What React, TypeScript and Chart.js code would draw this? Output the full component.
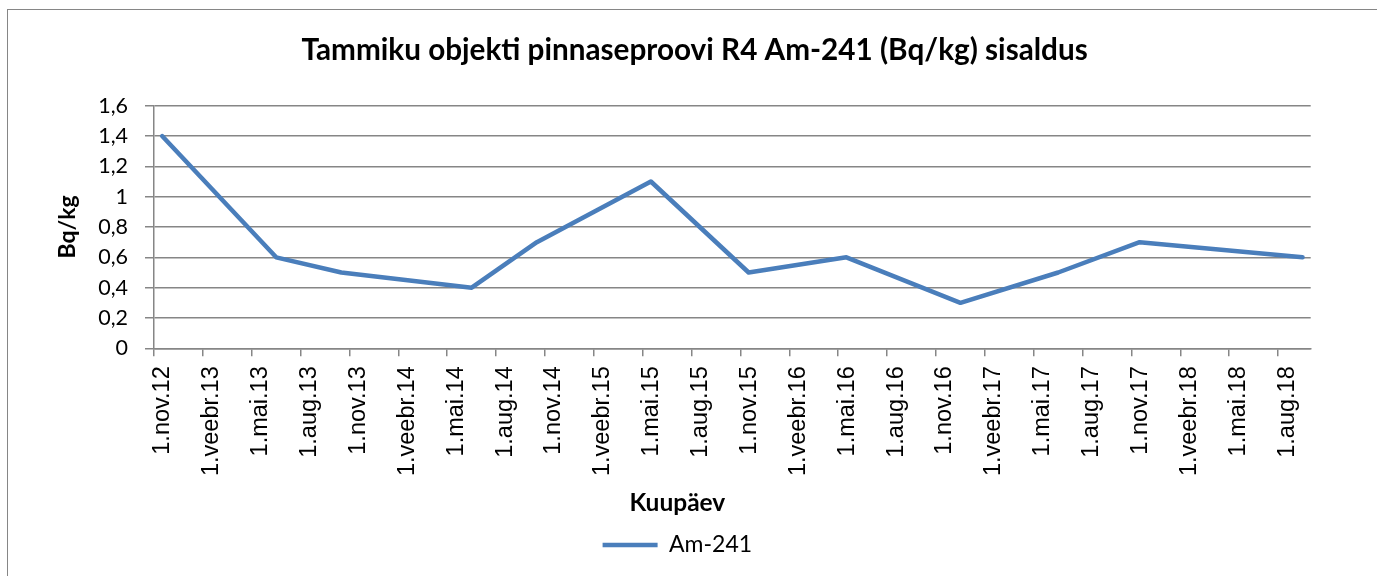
import React, { useEffect, useRef } from 'react';
import { Chart, registerables } from 'chart.js';

Chart.register(...registerables);

// ---- data ----
const chartTitle = 'Tammiku objekti pinnaseproovi R4 Am-241 (Bq/kg) sisaldus';
const seriesName = 'Am-241';
const xAxisTitle = 'Kuupäev';
const yAxisTitle = 'Bq/kg';

const sampleMonths = [
  '2012-11', '2013-06', '2013-10', '2014-06', '2014-10', '2015-05',
  '2015-11', '2016-05', '2016-12', '2017-06', '2017-11', '2018-09',
];
const am241Values = [1.4, 0.6, 0.5, 0.4, 0.7, 1.1, 0.5, 0.6, 0.3, 0.5, 0.7, 0.6];

const xTickLabels = [
  '1.nov.12', '1.veebr.13', '1.mai.13', '1.aug.13',
  '1.nov.13', '1.veebr.14', '1.mai.14', '1.aug.14',
  '1.nov.14', '1.veebr.15', '1.mai.15', '1.aug.15',
  '1.nov.15', '1.veebr.16', '1.mai.16', '1.aug.16',
  '1.nov.16', '1.veebr.17', '1.mai.17', '1.aug.17',
  '1.nov.17', '1.veebr.18', '1.mai.18', '1.aug.18',
];
const yTickLabels = ['0', '0,2', '0,4', '0,6', '0,8', '1', '1,2', '1,4', '1,6'];

const axisStartMonth = '2012-11';
const axisEndMonth = '2018-10';
const monthsPerTick = 3;

// month index relative to axis start (one unit = one month)
function monthIndex(s: string): number {
  const [y, m] = s.split('-').map(Number);
  const [y0, m0] = axisStartMonth.split('-').map(Number);
  return (y - y0) * 12 + (m - m0);
}

const LINE_COLOR = '#4a7ebb';
const GRID_COLOR = '#868686';

const titlePlugin = {
  id: 'excelTitle',
  afterDraw(chart: any) {
    const ctx = chart.ctx;
    ctx.save();
    ctx.font = 'bold 29.7px Lato';
    ctx.fillStyle = '#000';
    ctx.textAlign = 'center';
    ctx.textBaseline = 'alphabetic';
    ctx.fillText(chartTitle, 686.6, 50);
    ctx.restore();
  },
};

export default function App() {
  const ref = useRef<HTMLCanvasElement | null>(null);

  useEffect(() => {
    if (!ref.current) return;
    const points = sampleMonths.map((s, i) => ({ x: monthIndex(s) + 0.5, y: am241Values[i] }));
    const chart = new Chart(ref.current, {
      type: 'line',
      data: {
        datasets: [
          {
            label: seriesName,
            data: points,
            borderColor: LINE_COLOR,
            backgroundColor: LINE_COLOR,
            borderWidth: 4.5,
            borderCapStyle: 'round',
            borderJoinStyle: 'round',
            pointRadius: 0,
            pointHoverRadius: 0,
            tension: 0,
            fill: false,
          },
        ],
      },
      options: {
        responsive: false,
        animation: false,
        events: [],
        layout: { padding: { top: 95.7, left: 36, right: 66.3, bottom: 9.5 } },
        plugins: {
          title: { display: false },
          subtitle: {
            display: true,
            text: xAxisTitle,
            position: 'bottom',
            weight: 500,
            color: '#000',
            font: { family: 'Lato', size: 24.5, weight: 'bold' },
            lineHeight: 1.2,
            padding: { top: 0, bottom: 6 },
          },
          legend: {
            display: true,
            position: 'bottom',
            labels: {
              usePointStyle: true,
              pointStyle: 'line',
              pointStyleWidth: 55,
              color: '#000',
              font: { family: 'Lato', size: 23 },
              padding: 10,
            },
          },
          tooltip: { enabled: false },
        },
        scales: {
          x: {
            type: 'linear',
            min: 0,
            max: monthIndex(axisEndMonth),
            afterBuildTicks: (scale: any) => {
              scale.ticks = xTickLabels.map((_, i) => ({ value: i * monthsPerTick }));
            },
            afterFit: (scale: any) => {
              scale.height = 139.8;
            },
            ticks: {
              autoSkip: false,
              minRotation: 90,
              maxRotation: 90,
              labelOffset: 9,
              padding: 10,
              color: '#000',
              font: { family: 'Liberation Sans', size: 23.5 },
              callback: (_v: any, i: number) => xTickLabels[i],
            },
            grid: {
              display: true,
              drawOnChartArea: false,
              drawTicks: true,
              tickLength: 8,
              color: GRID_COLOR,
              lineWidth: 1.5,
            },
            border: { display: true, color: GRID_COLOR, width: 1.5 },
          },
          y: {
            type: 'linear',
            min: 0,
            max: 1.6,
            afterFit: (scale: any) => {
              scale.width = 110;
            },
            ticks: {
              stepSize: 0.2,
              padding: 17,
              color: '#000',
              font: { family: 'Lato', size: 21.5 },
              callback: (_v: any, i: number) => yTickLabels[i],
            },
            grid: {
              display: true,
              drawTicks: true,
              tickLength: 9,
              color: GRID_COLOR,
              lineWidth: 1.5,
            },
            border: { display: true, color: GRID_COLOR, width: 1.5 },
            title: {
              display: true,
              text: yAxisTitle,
              color: '#000',
              font: { family: 'Lato', size: 23, weight: 'bold' },
              padding: { top: 10.2, bottom: 0 },
            },
          },
        },
      } as any,
      plugins: [titlePlugin],
    });
    return () => chart.destroy();
  }, []);

  return (
    <div
      style={{
        position: 'absolute',
        left: 7,
        top: 9,
        width: 1370,
        height: 567,
        boxSizing: 'border-box',
        borderLeft: '1px solid #868686',
        borderTop: '1px solid #868686',
        background: '#fff',
      }}
    >
      <canvas ref={ref} width={1369} height={566} style={{ display: 'block', width: 1369, height: 566 }} />
    </div>
  );
}
